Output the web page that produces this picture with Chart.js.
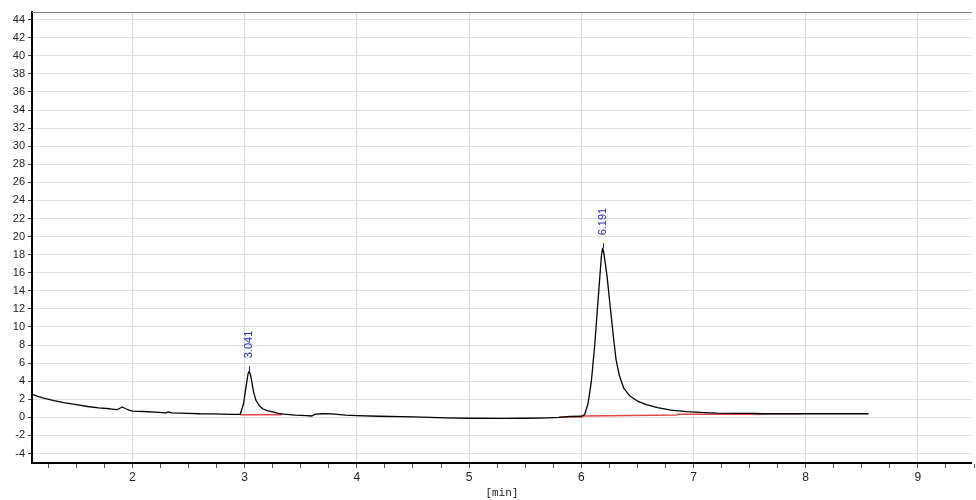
<!DOCTYPE html>
<html><head><meta charset="utf-8">
<script src="https://cdn.jsdelivr.net/npm/chart.js@4.4.1/dist/chart.umd.min.js"></script>
<style>html,body{margin:0;padding:0;background:#fff}#wrap{width:976px;height:500px}</style>
</head><body><div id="wrap"><canvas id="c" width="976" height="500"></canvas></div>
<script>
// ---- data ----
const traceTime = [1.10,1.15,1.20,1.30,1.40,1.50,1.60,1.70,1.80,1.86,1.88,1.91,1.94,1.97,2.00,2.10,2.20,2.30,2.32,2.35,2.50,2.60,2.70,2.80,2.90,2.96,2.99,3.02,3.03,3.04,3.05,3.06,3.08,3.10,3.13,3.16,3.20,3.25,3.30,3.35,3.45,3.55,3.60,3.63,3.70,3.78,3.85,3.90,4.00,4.20,4.50,4.80,5.00,5.30,5.50,5.70,5.80,5.90,6.00,6.03,6.06,6.09,6.12,6.15,6.17,6.18,6.19,6.20,6.21,6.23,6.26,6.29,6.31,6.34,6.38,6.43,6.50,6.58,6.68,6.80,6.94,7.10,7.21,7.40,7.55,7.60,8.00,8.56];
const traceSignal = [2.60,2.35,2.15,1.85,1.60,1.40,1.20,1.05,0.95,0.85,0.95,1.15,0.95,0.80,0.70,0.65,0.58,0.50,0.60,0.50,0.45,0.40,0.38,0.35,0.33,0.32,1.5,4.0,4.8,5.1,4.8,4.2,2.8,1.9,1.3,0.95,0.75,0.60,0.45,0.35,0.25,0.20,0.15,0.35,0.40,0.38,0.30,0.25,0.20,0.12,0.05,-0.05,-0.10,-0.12,-0.10,-0.05,0.00,0.10,0.12,0.30,1.5,4.0,8.0,13.0,16.3,17.9,18.7,18.3,17.4,15.6,12.0,8.5,6.4,4.6,3.2,2.4,1.8,1.40,1.07,0.80,0.63,0.52,0.46,0.44,0.44,0.40,0.40,0.40];
const baseTime   = [2.96,3.33,null,5.80,6.00,6.02,6.85,6.86,7.60,7.61,7.96];
const baseSignal = [0.28,0.28,null,0.00,0.05,0.15,0.25,0.35,0.35,0.40,0.40];
const peakTimes  = [3.041, 6.191];
const peakHeights= [5.1, 18.7];
const peakLabels = ["3.041", "6.191"];
const yTickValues = [-4,-2,0,2,4,6,8,10,12,14,16,18,20,22,24,26,28,30,32,34,36,38,40,42,44];
const xTickLabels = [2,3,4,5,6,7,8,9];
const xAxisTitle = "[min]";

const tracePts = traceTime.map((t,i)=>({x:t,y:traceSignal[i]}));
const basePts = baseTime.map((t,i)=>({x:t===null?NaN:t,y:baseSignal[i]}));
const xMinor = [];
for (let k = 5; k <= 38; k++) xMinor.push(k/4);

const peakPlugin = {
  id:'peaks',
  afterDatasetsDraw(chart){
    const {ctx, scales:{x,y}, chartArea} = chart;
    ctx.save();
    ctx.strokeStyle='#808080'; ctx.lineWidth=1;
    ctx.beginPath(); ctx.moveTo(chartArea.left, chartArea.top+0.5); ctx.lineTo(chartArea.right, chartArea.top+0.5); ctx.stroke();
    peakTimes.forEach((t,i)=>{
      const px = x.getPixelForValue(t), py = y.getPixelForValue(peakHeights[i]);
      ctx.strokeStyle='#1a1aa0'; ctx.lineWidth=1;
      ctx.beginPath(); ctx.moveTo(Math.round(px)+0.5, py); ctx.lineTo(Math.round(px)+0.5, py-5); ctx.stroke();
      ctx.translate(px, py-13);
      ctx.rotate(-Math.PI/2);
      ctx.fillStyle='#2a2ab0';
      ctx.font='11px "Liberation Sans", Arial, sans-serif';
      ctx.textAlign='left'; ctx.textBaseline='middle';
      ctx.fillText(peakLabels[i], 0, 0);
      ctx.setTransform(1,0,0,1,0,0);
    });
    ctx.restore();
  }
};

new Chart(document.getElementById('c'), {
  type:'line',
  data:{datasets:[
    {data:basePts, borderColor:'#e04848', borderWidth:1.5, pointRadius:0, spanGaps:false, tension:0, order:2},
    {data:tracePts, borderColor:'#000000', borderWidth:1.3, borderJoinStyle:'round', pointRadius:0, tension:0, order:1}
  ]},
  options:{
    responsive:false, animation:false,
    layout:{padding:{top:12,right:0,left:0,bottom:0}},
    plugins:{legend:{display:false}, tooltip:{enabled:false}},
    scales:{
      x:{type:'linear', min:1.105, max:9.48,
        afterBuildTicks(a){ a.ticks = xMinor.map(v=>({value:v})); },
        afterFit(a){ a.height = 37; },
        ticks:{autoSkip:false, maxRotation:0, padding:2, color:'#222',
          font:{family:'"Liberation Sans", Arial, sans-serif', size:12},
          callback(v){ return xTickLabels.includes(v) ? String(v) : ''; }},
        grid:{color(c){ return (c.tick && xTickLabels.includes(c.tick.value)) ? '#dcdcdc' : 'rgba(0,0,0,0)'; },
          tickColor:'#555', tickLength:5, drawTicks:true},
        border:{color:'#000', width:2},
        title:{display:true, text:xAxisTitle, color:'#222', padding:{top:0,bottom:0},
          font:{family:'"Liberation Mono", "DejaVu Sans Mono", monospace', size:11}}
      },
      y:{min:-5.05, max:44.85,
        afterBuildTicks(a){ a.ticks = yTickValues.map(v=>({value:v})); },
        afterFit(a){ a.width = 32; },
        ticks:{autoSkip:false, padding:3, color:'#222',
          font:{family:'"Liberation Sans", Arial, sans-serif', size:11}},
        grid:{color:'#e2e2e2', tickColor:'#444', tickLength:4},
        border:{color:'#000', width:2}
      }
    }
  },
  plugins:[peakPlugin]
});
</script>
</body></html>
